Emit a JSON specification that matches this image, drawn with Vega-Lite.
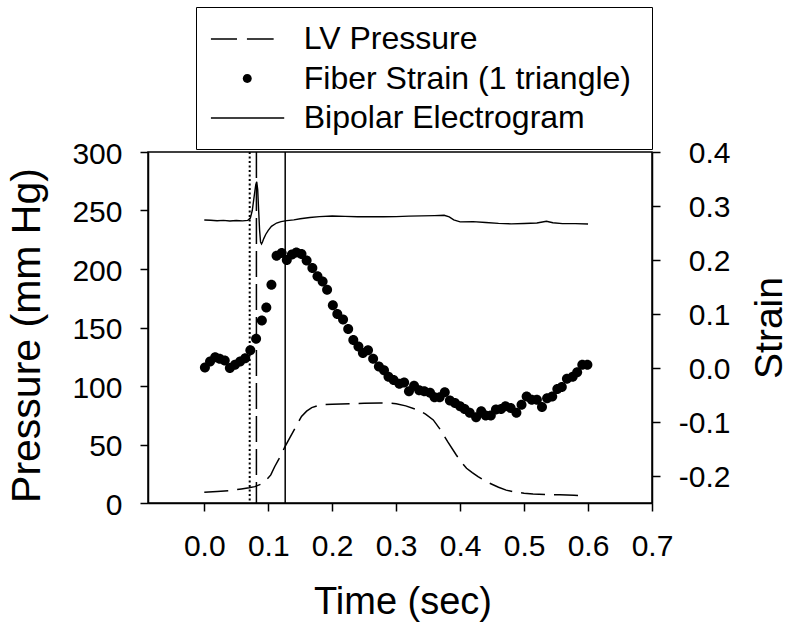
{
  "$schema": "https://vega.github.io/schema/vega-lite/v6.json",
  "width": 504,
  "height": 351,
  "autosize": {"type": "none"},
  "padding": {"left": 148, "top": 152, "right": 140, "bottom": 125},
  "background": "white",
  "config": {
    "view": {"stroke": "black", "strokeWidth": 1.5},
    "font": "Liberation Sans",
    "axis": {"labelFont": "Liberation Sans", "titleFont": "Liberation Sans", "labelColor": "black", "titleColor": "black", "domainColor": "black", "tickColor": "black", "domainWidth": 1.5, "tickWidth": 1.5, "tickSize": 8, "grid": false, "titleFontWeight": "normal", "labelOverlap": false, "labelFlush": false}
  },
  "datasets": {
    "pressure": [
      {"t": 0.0, "p": 9.1}, {"t": 0.02, "p": 9.8}, {"t": 0.04, "p": 10.5}, {"t": 0.058, "p": 12}, {"t": 0.07, "p": 13}, {"t": 0.079, "p": 14}, {"t": 0.088, "p": 16}, {"t": 0.097, "p": 19.7}, {"t": 0.104, "p": 24}, {"t": 0.11, "p": 31}, {"t": 0.118, "p": 39}, {"t": 0.126, "p": 48}, {"t": 0.133, "p": 55}, {"t": 0.139, "p": 61}, {"t": 0.146, "p": 68}, {"t": 0.152, "p": 74}, {"t": 0.16, "p": 78.5}, {"t": 0.168, "p": 81.5}, {"t": 0.176, "p": 83}, {"t": 0.186, "p": 84}, {"t": 0.2, "p": 84.4}, {"t": 0.228, "p": 84.8}, {"t": 0.25, "p": 85.2}, {"t": 0.275, "p": 85.5}, {"t": 0.29, "p": 85.3}, {"t": 0.3, "p": 84.8}, {"t": 0.315, "p": 83}, {"t": 0.334, "p": 79.5}, {"t": 0.346, "p": 76}, {"t": 0.358, "p": 71}, {"t": 0.37, "p": 62}, {"t": 0.381, "p": 52}, {"t": 0.394, "p": 41}, {"t": 0.402, "p": 35}, {"t": 0.41, "p": 29.7}, {"t": 0.419, "p": 26}, {"t": 0.428, "p": 22.5}, {"t": 0.437, "p": 19.5}, {"t": 0.446, "p": 17}, {"t": 0.46, "p": 13.5}, {"t": 0.472, "p": 11}, {"t": 0.483, "p": 9.7}, {"t": 0.5, "p": 8.3}, {"t": 0.514, "p": 7.7}, {"t": 0.535, "p": 7.3}, {"t": 0.556, "p": 7.0}, {"t": 0.578, "p": 6.6}, {"t": 0.597, "p": 6.0}
    ],
    "egm": [
      {"t": 0.0, "p": 241.9}, {"t": 0.01, "p": 241.7}, {"t": 0.02, "p": 241.3}, {"t": 0.03, "p": 241.6}, {"t": 0.04, "p": 241.0}, {"t": 0.05, "p": 241.4}, {"t": 0.06, "p": 241.1}, {"t": 0.068, "p": 241.6}, {"t": 0.072, "p": 243.5}, {"t": 0.075, "p": 250}, {"t": 0.078, "p": 262}, {"t": 0.0805, "p": 272}, {"t": 0.082, "p": 274.6}, {"t": 0.0835, "p": 268}, {"t": 0.085, "p": 250}, {"t": 0.0865, "p": 233}, {"t": 0.088, "p": 223}, {"t": 0.0895, "p": 221.4}, {"t": 0.091, "p": 223}, {"t": 0.093, "p": 226}, {"t": 0.096, "p": 229.5}, {"t": 0.1, "p": 233}, {"t": 0.105, "p": 236.5}, {"t": 0.113, "p": 239.3}, {"t": 0.12, "p": 240.5}, {"t": 0.129, "p": 241.3}, {"t": 0.14, "p": 242}, {"t": 0.15, "p": 243}, {"t": 0.165, "p": 244}, {"t": 0.18, "p": 244.8}, {"t": 0.2, "p": 245.3}, {"t": 0.22, "p": 245}, {"t": 0.24, "p": 244.6}, {"t": 0.26, "p": 244.8}, {"t": 0.28, "p": 244.6}, {"t": 0.3, "p": 244.8}, {"t": 0.32, "p": 245.2}, {"t": 0.34, "p": 245.4}, {"t": 0.36, "p": 245.6}, {"t": 0.375, "p": 245.9}, {"t": 0.383, "p": 244.5}, {"t": 0.39, "p": 242}, {"t": 0.4, "p": 240.3}, {"t": 0.42, "p": 240.5}, {"t": 0.44, "p": 239.8}, {"t": 0.46, "p": 239.0}, {"t": 0.48, "p": 238.6}, {"t": 0.5, "p": 238.9}, {"t": 0.52, "p": 239.3}, {"t": 0.535, "p": 240.8}, {"t": 0.545, "p": 239.5}, {"t": 0.56, "p": 238.8}, {"t": 0.58, "p": 238.8}, {"t": 0.6, "p": 238.4}
    ],
    "strain": [
      {"t": 0.001, "s": 0.001}, {"t": 0.009, "s": 0.012}, {"t": 0.017, "s": 0.02}, {"t": 0.024, "s": 0.017}, {"t": 0.032, "s": 0.014}, {"t": 0.04, "s": 0.0}, {"t": 0.048, "s": 0.006}, {"t": 0.056, "s": 0.012}, {"t": 0.064, "s": 0.018}, {"t": 0.072, "s": 0.033}, {"t": 0.081, "s": 0.054}, {"t": 0.09, "s": 0.088}, {"t": 0.097, "s": 0.112}, {"t": 0.105, "s": 0.154}, {"t": 0.113, "s": 0.208}, {"t": 0.121, "s": 0.213}, {"t": 0.129, "s": 0.2}, {"t": 0.137, "s": 0.21}, {"t": 0.144, "s": 0.214}, {"t": 0.152, "s": 0.211}, {"t": 0.16, "s": 0.199}, {"t": 0.169, "s": 0.185}, {"t": 0.177, "s": 0.17}, {"t": 0.185, "s": 0.16}, {"t": 0.192, "s": 0.145}, {"t": 0.201, "s": 0.116}, {"t": 0.208, "s": 0.1}, {"t": 0.217, "s": 0.09}, {"t": 0.225, "s": 0.072}, {"t": 0.233, "s": 0.052}, {"t": 0.241, "s": 0.04}, {"t": 0.248, "s": 0.028}, {"t": 0.256, "s": 0.033}, {"t": 0.264, "s": 0.017}, {"t": 0.273, "s": 0.003}, {"t": 0.281, "s": -0.004}, {"t": 0.288, "s": -0.016}, {"t": 0.296, "s": -0.022}, {"t": 0.305, "s": -0.029}, {"t": 0.3125, "s": -0.027}, {"t": 0.32, "s": -0.043}, {"t": 0.328, "s": -0.033}, {"t": 0.336, "s": -0.041}, {"t": 0.344, "s": -0.043}, {"t": 0.353, "s": -0.046}, {"t": 0.36, "s": -0.054}, {"t": 0.368, "s": -0.054}, {"t": 0.376, "s": -0.045}, {"t": 0.384, "s": -0.06}, {"t": 0.392, "s": -0.065}, {"t": 0.4, "s": -0.071}, {"t": 0.407, "s": -0.076}, {"t": 0.415, "s": -0.083}, {"t": 0.425, "s": -0.091}, {"t": 0.433, "s": -0.08}, {"t": 0.44, "s": -0.088}, {"t": 0.448, "s": -0.088}, {"t": 0.456, "s": -0.077}, {"t": 0.464, "s": -0.076}, {"t": 0.471, "s": -0.071}, {"t": 0.479, "s": -0.074}, {"t": 0.488, "s": -0.083}, {"t": 0.496, "s": -0.068}, {"t": 0.504, "s": -0.053}, {"t": 0.512, "s": -0.059}, {"t": 0.52, "s": -0.059}, {"t": 0.528, "s": -0.072}, {"t": 0.536, "s": -0.056}, {"t": 0.544, "s": -0.053}, {"t": 0.552, "s": -0.039}, {"t": 0.559, "s": -0.035}, {"t": 0.567, "s": -0.02}, {"t": 0.576, "s": -0.016}, {"t": 0.583, "s": -0.008}, {"t": 0.591, "s": 0.006}, {"t": 0.599, "s": 0.006}
    ]
  },
  "encoding": {
    "x": {
      "field": "t", "type": "quantitative",
      "scale": {"domain": [-0.088, 0.7], "nice": false, "zero": false},
      "axis": {
        "title": "Time (sec)", "values": [0, 0.1, 0.2, 0.3, 0.4, 0.5, 0.6, 0.7], "format": ".1f",
        "labelFontSize": 30, "labelBaseline": "alphabetic", "labelPadding": 44,
        "titleFontSize": 38, "titleX": 254.5, "titleY": 110, "titleBaseline": "alphabetic", "titleAlign": "center"
      }
    }
  },
  "layer": [
    {
      "encoding": {
        "y": {
          "field": "p", "type": "quantitative",
          "scale": {"domain": [0, 300], "nice": false},
          "axis": {
            "orient": "left", "title": "Pressure (mm Hg)", "values": [0, 50, 100, 150, 200, 250, 300],
            "labelFontSize": 30, "labelPadding": 18, "labelOffset": 2,
            "titleFontSize": 41, "titleAngle": 270, "titleX": -108.7, "titleY": 183, "titleBaseline": "alphabetic", "titleAlign": "center"
          }
        }
      },
      "layer": [
        {"data": {"name": "pressure"}, "mark": {"type": "line", "color": "black", "strokeWidth": 1.5, "strokeDash": [24, 9]}},
        {"data": {"name": "egm"}, "mark": {"type": "line", "color": "black", "strokeWidth": 1.4}},
        {"data": {"values": [{"t": 0.071}]}, "mark": {"type": "rule", "color": "black", "strokeWidth": 2, "strokeDash": [2, 2.5]}, "encoding": {"y": null}},
        {"data": {"values": [{"t": 0.0815}]}, "mark": {"type": "rule", "color": "black", "strokeWidth": 1.5, "strokeDash": [26, 7]}, "encoding": {"y": null}},
        {"data": {"values": [{"t": 0.1265}]}, "mark": {"type": "rule", "color": "black", "strokeWidth": 1.5}, "encoding": {"y": null}}
      ]
    },
    {
      "data": {"name": "strain"},
      "mark": {"type": "point", "filled": true, "color": "black", "opacity": 1, "size": 1275},
      "encoding": {
        "y": {
          "field": "s", "type": "quantitative",
          "scale": {"domain": [-0.25, 0.4], "nice": false, "zero": false},
          "axis": {
            "orient": "right", "title": "Strain", "values": [-0.2, -0.1, 0, 0.1, 0.2, 0.3, 0.4], "format": ".1f",
            "labelExpr": "replace(datum.label, '\u2212', '-')",
            "labelFontSize": 30, "labelAlign": "right", "labelPadding": 70, "labelOffset": 1,
            "titleFontSize": 39, "titleAngle": 270, "titleX": 129.7, "titleY": 175.5, "titleBaseline": "alphabetic", "titleAlign": "center"
          }
        },
        "shape": {
          "datum": "Fiber Strain (1 triangle)",
          "type": "nominal",
          "scale": {
            "domain": ["LV Pressure", "Fiber Strain (1 triangle)", "Bipolar Electrogram"],
            "range": [
              "M-2.27,-0.047H-0.64V0.047H-2.27Z M-0.02,-0.047H1.65V0.047H-0.02Z",
              "M0.28,0A0.28,0.28,0,1,1,-0.28,0A0.28,0.28,0,1,1,0.28,0Z",
              "M-2.27,-0.047H2.31V0.047H-2.27Z"
            ]
          },
          "legend": {
            "orient": "none", "legendX": 48, "legendY": -145,
            "title": " ", "titleOrient": "right", "titlePadding": 6, "titleFontSize": 16,
            "strokeColor": "black", "padding": 15,
            "labelFontSize": 32, "labelFont": "Liberation Sans", "labelColor": "black", "labelOffset": 39.5, "labelLimit": 600,
            "rowPadding": 6.5, "symbolSize": 1024, "symbolOffset": 19.25, "symbolFillColor": "black"
          }
        }
      }
    }
  ],
  "resolve": {"scale": {"y": "independent"}}
}
